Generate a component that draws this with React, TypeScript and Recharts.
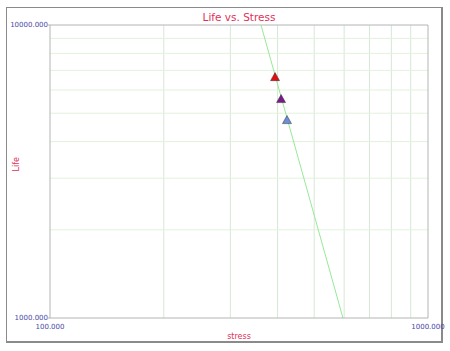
import { Scatter, XAxis, YAxis, ReferenceLine, Line, ComposedChart } from "recharts";

const stressPoints = [393.9, 408.6, 423.6];
const lifePoints = [6643, 5590, 4740];
const pointColors = ["#e01010", "#7a1a8a", "#6a8fd8"];

// fitted life-stress line end points (stress, life)
const fitStress = [361.6, 595.7];
const fitLife = [10000, 1000];

const xTicks = [100, 1000];
const yTicks = [1000, 10000];
const xGrid = [200, 300, 400, 500, 600, 700, 800, 900];
const yGrid = [2000, 3000, 4000, 5000, 6000, 7000, 8000, 9000];

const points = stressPoints.map((s, i) => ({ stress: s, life: lifePoints[i], color: pointColors[i] }));
const fitLine = fitStress.map((s, i) => ({ stress: s, life: fitLife[i] }));

const tickStyle = { fontSize: 7, fill: "#4848a8", fontFamily: "DejaVu Sans" };

function Triangle(props: any) {
  const { cx, cy, payload } = props;
  if (cx == null || cy == null) return null;
  const s = 4.5;
  return (
    <path
      d={`M${cx},${cy - s} L${cx + s},${cy + s * 0.8} L${cx - s},${cy + s * 0.8} Z`}
      fill={payload.color}
      stroke="#333"
      strokeWidth={0.5}
    />
  );
}

export default function App() {
  return (
    <div style={{ position: "absolute", left: 0, top: 0, width: 450, height: 351, background: "#fff" }}>
      <div
        style={{
          position: "absolute",
          left: 6,
          top: 7,
          width: 434,
          height: 333,
          border: "1px solid #8a8a8a",
          borderRightWidth: 2,
          borderBottomWidth: 2,
        }}
      />
      <div
        style={{
          position: "absolute",
          left: 0,
          top: 11,
          width: 478,
          textAlign: "center",
          fontFamily: "DejaVu Sans",
          fontSize: 10.5,
          color: "#e0305a",
        }}
      >
        Life vs. Stress
      </div>
      <div style={{ position: "absolute", left: 0, top: 0 }}>
        <ComposedChart width={450} height={351} margin={{ top: 25, right: 22, bottom: 8, left: 7 }}>
          {xGrid.map((v) => (
            <ReferenceLine key={"x" + v} x={v} stroke="#d6e8d6" strokeWidth={1} />
          ))}
          {yGrid.map((v) => (
            <ReferenceLine key={"y" + v} y={v} stroke="#e2f2dc" strokeWidth={1} />
          ))}
          <XAxis
            dataKey="stress"
            type="number"
            scale="log"
            domain={[100, 1000]}
            ticks={xTicks}
            tickFormatter={(v: number) => v.toFixed(3)}
            tick={tickStyle}
            tickLine={false}
            tickMargin={0}
            stroke="#b4b4b4"
            height={25}
            allowDataOverflow
            label={{ value: "stress", position: "insideBottom", offset: 4, fill: "#e0305a", fontSize: 8, fontFamily: "DejaVu Sans" }}
          />
          <YAxis
            dataKey="life"
            type="number"
            scale="log"
            domain={[1000, 10000]}
            ticks={yTicks}
            tickFormatter={(v: number) => v.toFixed(3)}
            tick={tickStyle}
            tickSize={2}
            tickMargin={0}
            stroke="#b4b4b4"
            width={43}
            allowDataOverflow
            label={{ value: "Life", angle: -90, position: "insideLeft", offset: 9, fill: "#e0305a", fontSize: 8, fontFamily: "DejaVu Sans" }}
          />
          <ReferenceLine x={1000} stroke="#b4b4b4" />
          <ReferenceLine y={10000} stroke="#b4b4b4" />
          <Line
            data={fitLine}
            dataKey="life"
            stroke="#98e898"
            strokeWidth={1}
            dot={false}
            isAnimationActive={false}
          />
          <Scatter data={points} dataKey="life" shape={<Triangle />} isAnimationActive={false} />
        </ComposedChart>
      </div>
    </div>
  );
}
